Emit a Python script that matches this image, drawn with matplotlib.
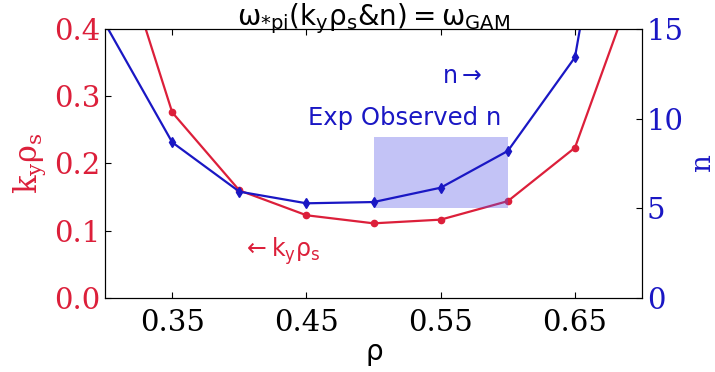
import numpy as np
import matplotlib
matplotlib.use("Agg")
import matplotlib.pyplot as plt

rho = [0.30, 0.35, 0.40, 0.45, 0.50, 0.55, 0.60, 0.65, 0.70]
kyrhos = [0.59, 0.276, 0.160, 0.123, 0.111, 0.1165, 0.144, 0.2235, 0.50]
n_mode = [15.3, 8.68, 5.93, 5.28, 5.35, 6.15, 8.2, 13.42, 34.8]
exp_rho = [0.50, 0.60]
exp_n = [5, 9]

red = "#dc1f3a"
blue = "#1a17c4"

plt.rcParams["font.family"] = "DejaVu Serif"
plt.rcParams["mathtext.default"] = "regular"

fig = plt.figure(figsize=(7.15, 3.72), dpi=100)
ax = fig.add_axes([0.147, 0.199, 0.751, 0.723])
ax2 = ax.twinx()

ax.plot(rho, kyrhos, color=red, marker="o", markersize=4.5, lw=1.6)
ax2.plot(rho, n_mode, color=blue, marker="d", markersize=5, lw=1.6)
ax2.fill_between(exp_rho, exp_n[0], exp_n[1], color="#5555e8", alpha=0.35, lw=0)

ax.set_xlim(0.30, 0.70)
ax.set_ylim(0, 0.4)
ax2.set_ylim(0, 15)
ax.set_xticks([0.35, 0.45, 0.55, 0.65])
ax.set_yticks([0.0, 0.1, 0.2, 0.3, 0.4])
ax2.set_yticks([0, 5, 10, 15])

for a in (ax, ax2):
    a.tick_params(direction="in", labelsize=21, length=4)
ax.tick_params(axis="x", top=True, pad=8)
ax.tick_params(axis="y", labelcolor=red, color="k")
ax2.tick_params(axis="y", labelcolor=blue, color="k")

ax.set_ylabel(r"$\mathrm{k_y\rho_s}$", color=red, fontsize=22,
              math_fontfamily="dejavuserif", labelpad=4)
ax2.set_ylabel("n", color=blue, fontsize=20, labelpad=4)
ax.set_xlabel(r"$\rho$", fontsize=20, family="DejaVu Sans",
              math_fontfamily="dejavusans", labelpad=2)
fig.text(0.522, 0.997, r"$\omega_{*pi}(k_y\rho_s&n) = \omega_{GAM}$", fontsize=20,
         family="DejaVu Sans", math_fontfamily="dejavusans", ha="center", va="top")

ax2.text(0.523, 10.05, "Exp Observed n", color=blue, fontsize=17.5,
         family="DejaVu Sans", ha="center", va="center")
ax2.text(0.566, 12.4, r"n$\rightarrow$", color=blue, fontsize=17,
         family="DejaVu Sans", math_fontfamily="dejavusans", ha="center", va="center")
ax.text(0.4315, 0.069, r"$\leftarrow k_y\rho_s$", color=red, fontsize=17,
        family="DejaVu Sans", math_fontfamily="dejavusans", ha="center", va="center")

fig.savefig("out.png", dpi=100)
